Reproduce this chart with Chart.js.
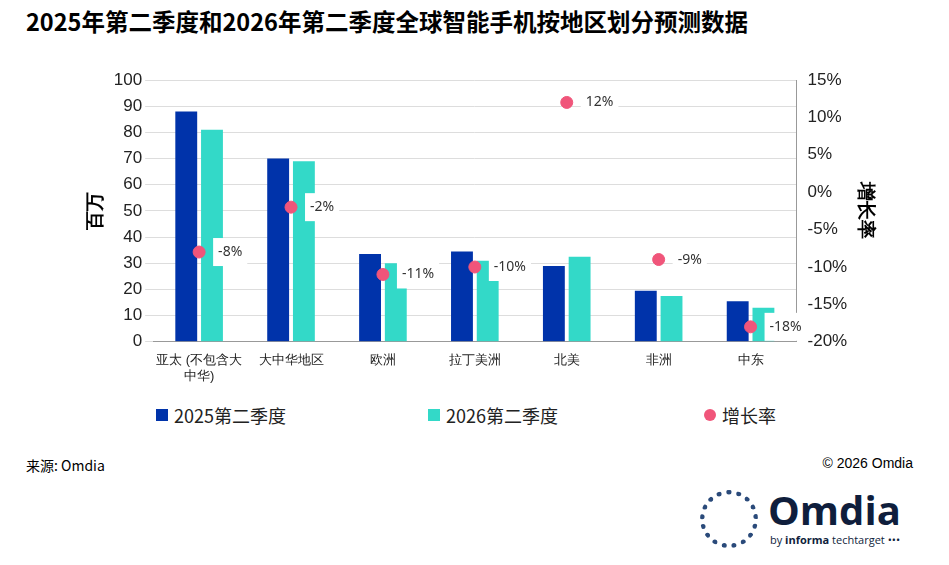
<!DOCTYPE html>
<html><head><meta charset="utf-8">
<script src="https://cdn.jsdelivr.net/npm/chart.js@4"></script>
<style>
body{margin:0;width:949px;height:565px;background:#fff;font-family:"Noto Sans CJK SC","Noto Sans",sans-serif;position:relative;overflow:hidden}
#title{position:absolute;left:26px;top:4px;font-size:23.5px;font-weight:bold;color:#000;white-space:nowrap}
#wrap{position:absolute;left:0;top:60px;width:949px;height:327px}
#legend{position:absolute;top:402px;left:0;width:949px;font-size:18px;color:#222}
.li{position:absolute;display:flex;align-items:center;gap:6px}
.sq{width:12px;height:12px}
.dot{width:12px;height:12px;border-radius:50%}
#src{position:absolute;left:26px;top:455px;font-size:14px}
#copy{position:absolute;right:36px;top:455px;font-size:14px;font-family:"Liberation Sans",sans-serif}
#logo{position:absolute;left:700px;top:490px;font-family:"Open Sans",sans-serif;color:#0f1e3c}
</style></head><body>
<div id="title">2025年第二季度和2026年第二季度全球智能手机按地区划分预测数据</div>
<div id="wrap"><canvas id="c"></canvas></div>
<div id="legend">
 <div class="li" style="left:156px"><div class="sq" style="background:#0033aa"></div>2025第二季度</div>
 <div class="li" style="left:428px"><div class="sq" style="background:#33d9c8"></div>2026第二季度</div>
 <div class="li" style="left:704px"><div class="dot" style="background:#f0557a"></div>增长率</div>
</div>
<div id="src">来源: Omdia</div>
<div id="copy">© 2026 Omdia</div>
<div id="logo">
 <div style="position:absolute;left:0;top:0;width:58px;height:58px;border-radius:50%;border:5px dotted #2a4a7a;box-sizing:border-box"></div>
 <div style="position:absolute;left:68px;top:-8px;font-size:40px;font-weight:bold">Omdia</div>
 <div style="position:absolute;left:70px;top:42px;font-size:11px;white-space:nowrap">by <b>informa</b> techtarget •••</div>
</div>
<script>
const categories = [['亚太 (不包含大','中华)'],'大中华地区','欧洲','拉丁美洲','北美','非洲','中东'];
const q2_2025 = [88, 70, 33.5, 34.5, 29, 19.5, 15.5];
const q2_2026 = [81, 69, 30, 31, 32.5, 17.5, 13];
const growth = [-8, -2, -11, -10, 12, -9, -18];

const labelBoxes = {
  id:'labelBoxes',
  afterDatasetsDraw(chart){
    const ctx = chart.ctx, meta = chart.getDatasetMeta(2);
    ctx.save();
    ctx.font = '14px "Noto Sans","DejaVu Sans",sans-serif';
    ctx.textBaseline = 'middle';
    meta.data.forEach((p,i)=>{
      const t = growth[i] + '%';
      const w = ctx.measureText(t).width + 10;
      ctx.fillStyle = '#fff';
      ctx.fillRect(p.x+14, p.y-14, w, 28);
      ctx.fillStyle = '#333';
      ctx.fillText(t, p.x+19, p.y);
    });
    ctx.restore();
  }
};

new Chart(document.getElementById('c'),{
  data:{labels:categories,datasets:[
    {type:'bar',label:'2025第二季度',data:q2_2025,backgroundColor:'#0033aa',yAxisID:'y',categoryPercentage:0.56,barPercentage:0.85,order:2},
    {type:'bar',label:'2026第二季度',data:q2_2026,backgroundColor:'#33d9c8',yAxisID:'y',categoryPercentage:0.56,barPercentage:0.85,order:2},
    {type:'scatter',label:'增长率',data:growth,yAxisID:'y1',backgroundColor:'#f0557a',borderColor:'#f0557a',pointRadius:6,order:1}
  ]},
  options:{
    responsive:true,maintainAspectRatio:false,animation:false,
    layout:{padding:{left:80,right:68,top:20}},
    plugins:{legend:{display:false},tooltip:{enabled:false}},
    scales:{
      x:{grid:{display:false},border:{color:'#999'},ticks:{color:'#222',font:{size:13},maxRotation:0}},
      y:{position:'left',min:0,max:100,ticks:{stepSize:10,color:'#222',font:{size:17}},
         grid:{color:'#ddd'},border:{display:false},
         title:{display:true,text:'百万',font:{size:19,weight:'bold'},color:'#000'}},
      y1:{position:'right',min:-20,max:15,ticks:{stepSize:5,color:'#222',font:{size:17},callback:v=>v+'%'},
         grid:{display:false},border:{color:'#999'},
         title:{display:true,text:'增长率',font:{size:19,weight:'bold'},color:'#000'}}
    }
  },
  plugins:[labelBoxes]
});
</script>
</body></html>
